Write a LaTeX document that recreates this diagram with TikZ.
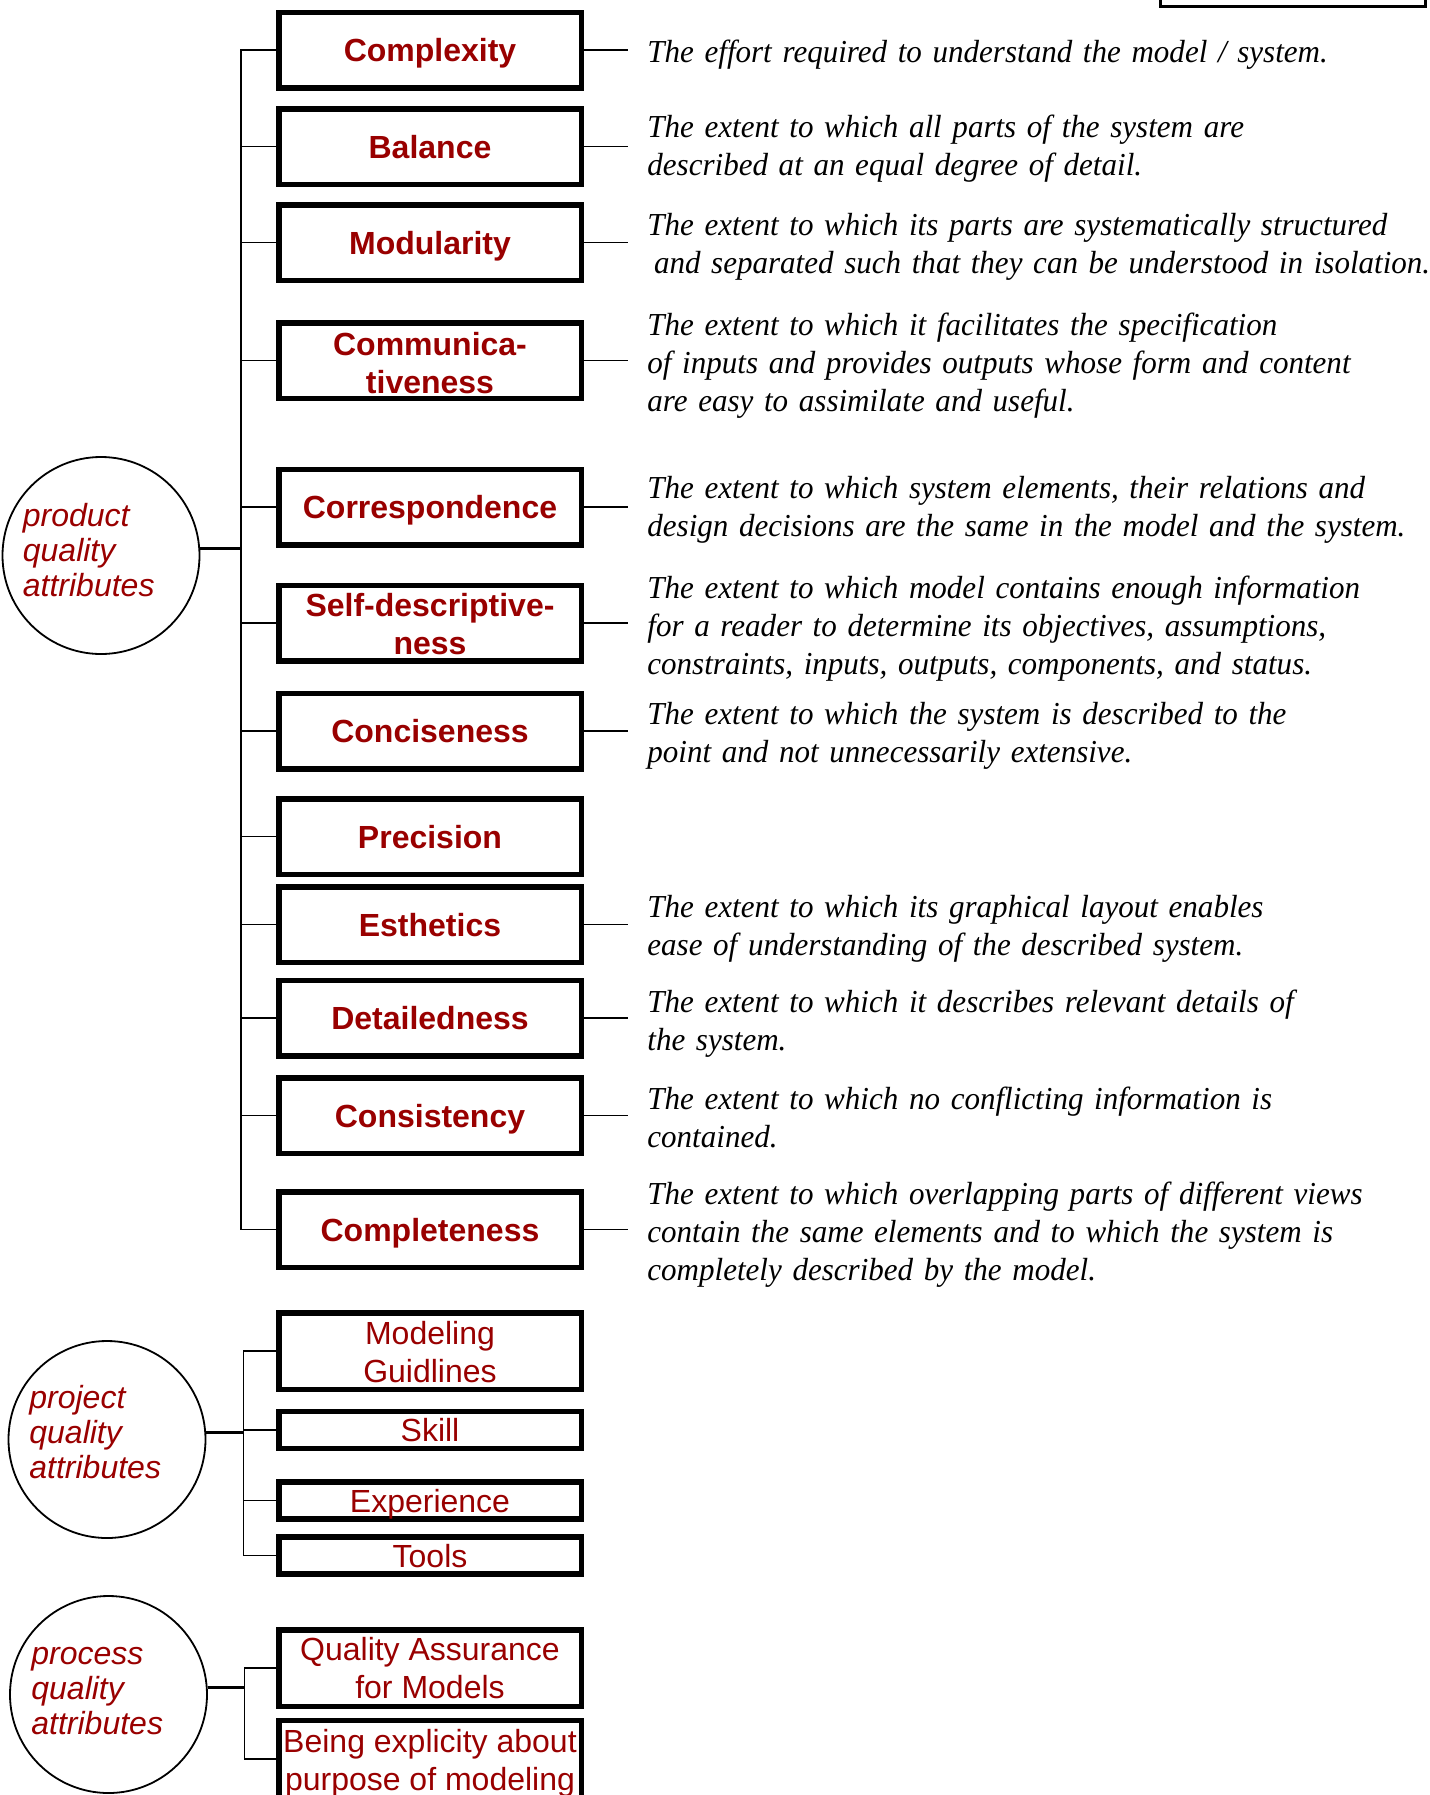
\documentclass[tikz,border=0pt]{standalone}
\usepackage{fontspec}
\setmainfont{Liberation Serif}
\newfontfamily\labelfont{Liberation Sans}
\newfontfamily\descfont{Liberation Serif}[FakeStretch=0.97]
\definecolor{attrred}{RGB}{153,0,0}

\begin{document}
\begin{tikzpicture}[x=0.5pt,y=-0.5pt,
  attrbase/.style={draw=black, line width=2.75pt, rectangle, fill=white,
    minimum width=151.25pt, inner sep=0pt, align=center, text=attrred},
  attrbox/.style={attrbase, minimum height=37.75pt,
    font=\labelfont\bfseries\fontsize{16}{19}\selectfont},
  projbox/.style={attrbase, minimum height=38.25pt,
    font=\labelfont\fontsize{16}{19}\selectfont},
  slimbox/.style={projbox, minimum height=18.5pt},
  flat/.style={text depth=0pt},
  group/.style={draw=black, line width=0.9pt, circle, minimum size=98.5pt, inner sep=0pt},
  grouptext/.style={text=attrred, font=\labelfont\itshape\fontsize{16}{17.5}\selectfont,
    text width=110pt, align=left, anchor=base west, inner sep=0pt},
  desc/.style={font=\descfont\itshape\fontsize{16}{19}\selectfont,
    text width=420pt, align=left, anchor=base west, inner sep=0pt},
  branch/.style={draw=black, line width=0.9pt},
  hub/.style={draw=black, line width=1.5pt}
]
\useasboundingbox (0,0) rectangle (1430,1795);
\clip (0,0) rectangle (1430,1795);

% frame at the top right corner, running off the page
\draw[line width=1.35pt] (1160.4,-20) rectangle (1425.6,6.6);

% trunks and the free ends of the description leaders
\coordinate (ptrunk) at (241,0);
\coordinate (jtrunk) at (243.5,0);
\coordinate (strunk) at (244.5,0);
\coordinate (dx) at (628,0);

% ---------- product quality attributes ----------
\node[group] (prod) at (101,555.5) {};
\node[grouptext] (prodt) at (22.5,526) {product\\quality\\attributes};

\node[attrbox, flat] (cplx) at (430,50) {Complexity};
\node[attrbox, flat] (bal) at (430,146.5) {Balance};
\node[attrbox, flat] (modu) at (430,242.5) {Modularity};
\node[attrbox] (comm) at (430,360.5) {\rule{0pt}{14pt}Communica-\\tiveness};
\node[attrbox, flat] (corr) at (430,507) {Correspondence};
\node[attrbox] (selfd) at (430,623) {\rule{0pt}{13pt}Self-descriptive-\\ness};
\node[attrbox, flat] (conc) at (430,731) {Conciseness};
\node[attrbox, flat] (prec) at (430,836.5) {Precision};
\node[attrbox, flat] (esth) at (430,924.5) {Esthetics};
\node[attrbox, flat] (detl) at (430,1018) {Detailedness};
\node[attrbox, flat] (cons) at (430,1115.5) {Consistency};
\node[attrbox, flat] (cmpl) at (430,1229.5) {Completeness};

\draw[branch] (cplx.west) -- (cplx.west -| ptrunk) -- (cmpl.west -| ptrunk) -- (cmpl.west);
\foreach \b in {bal,modu,comm,corr,selfd,conc,prec,esth,detl,cons}
  \draw[branch] (\b.west) -- (\b.west -| ptrunk);
\draw[hub] (prod.4) -- (prod.4 -| ptrunk);

\foreach \b in {cplx,bal,modu,comm,corr,selfd,conc,esth,detl,cons,cmpl}
  \draw[branch] (\b.east) -- (\b.east -| dx);

\node[desc] (dcplx) at (647,62) {The effort required to understand the model / system.};
\node[desc] (dbal) at (647,137.5) {The extent to which all parts of the system are\\described at an equal degree of detail.};
\node[desc] (dmodu) at (647,235) {The extent to which its parts are systematically structured\\\hspace*{3.3pt}and separated such that they can be understood in isolation.};
\node[desc] (dcomm) at (647,335) {The extent to which it facilitates the specification\\of inputs and provides outputs whose form and content\\are easy to assimilate and useful.};
\node[desc] (dcorr) at (647,498.5) {The extent to which system elements, their relations and\\design decisions are the same in the model and the system.};
\node[desc] (dselfd) at (647,598) {The extent to which model contains enough information\\for a reader to determine its objectives, assumptions,\\constraints, inputs, outputs, components, and status.};
\node[desc] (dconc) at (647,724) {The extent to which the system is described to the\\point and not unnecessarily extensive.};
\node[desc] (desth) at (647,917) {The extent to which its graphical layout enables\\ease of understanding of the described system.};
\node[desc] (ddetl) at (647,1012) {The extent to which it describes relevant details of\\the system.};
\node[desc] (dcons) at (647,1109) {The extent to which no conflicting information is\\contained.};
\node[desc] (dcmpl) at (647,1204.5) {The extent to which overlapping parts of different views\\contain the same elements and to which the system is\\completely described by the model.};

% ---------- project quality attributes ----------
\node[group] (proj) at (107,1439.5) {};
\node[grouptext] (projt) at (29,1408) {project\\quality\\attributes};

\node[projbox] (guide) at (430,1351) {\rule{0pt}{13pt}Modeling\\Guidlines};
\node[slimbox, flat] (skill) at (430,1430) {Skill};
\node[slimbox, flat] (exper) at (430,1500.5) {Experience};
\node[slimbox, flat] (tools) at (430,1555.5) {Tools};

\draw[branch] (guide.west) -- (guide.west -| jtrunk) -- (tools.west -| jtrunk) -- (tools.west);
\foreach \b in {skill,exper}
  \draw[branch] (\b.west) -- (\b.west -| jtrunk);
\draw[hub] (proj.4) -- (proj.4 -| jtrunk);

% ---------- process quality attributes ----------
\node[group] (proc) at (108.5,1694.5) {};
\node[grouptext] (proct) at (31,1664) {process\\quality\\attributes};

\node[projbox] (qam) at (430,1668) {Quality Assurance\\for Models};
\node[projbox] (purp) at (430,1759) {\rule{0pt}{16pt}Being explicity about\\purpose of modeling};

\draw[branch] (qam.west) -- (qam.west -| strunk) -- (purp.west -| strunk) -- (purp.west);
\draw[hub] (proc.4) -- (proc.4 -| strunk);
\end{tikzpicture}
\end{document}
